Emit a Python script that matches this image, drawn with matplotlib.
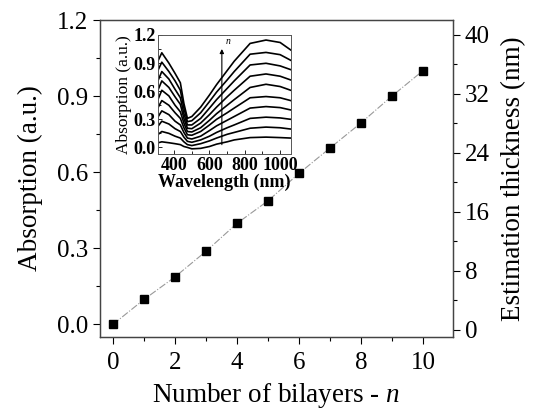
import numpy as np
import matplotlib
matplotlib.use('Agg')
import matplotlib.pyplot as plt
from matplotlib.ticker import MultipleLocator

plt.rcParams['font.family'] = ['Liberation Serif', 'DejaVu Serif']
plt.rcParams['mathtext.fontset'] = 'custom'
plt.rcParams['mathtext.it'] = 'Liberation Serif:italic'

# main plot: absorption vs number of bilayers
bilayers = [0, 1, 2, 3, 4, 5, 6, 7, 8, 9, 10]
absorption = [0.0, 0.098, 0.187, 0.288, 0.398, 0.487, 0.595, 0.695, 0.794, 0.900, 1.0]

# inset spectra, one row per bilayer count (n = 1 .. 10)
wavelength = [310, 330, 370, 405, 435, 455, 475, 500, 550, 600, 640, 700, 740, 830, 920, 1000, 1060]
spectra = [
    [0.05, 0.06, 0.05, 0.04, 0.03, 0.01, 0.00, -0.015, -0.01, 0.01, 0.035, 0.06, 0.08, 0.105, 0.110, 0.105, 0.10],
    [0.14, 0.17, 0.15, 0.12, 0.10, 0.06, 0.03, 0.02, 0.04, 0.07, 0.10, 0.14, 0.16, 0.205, 0.217, 0.21, 0.196],
    [0.23, 0.28, 0.25, 0.20, 0.17, 0.11, 0.065, 0.055, 0.08, 0.12, 0.16, 0.21, 0.24, 0.31, 0.323, 0.315, 0.30],
    [0.33, 0.39, 0.35, 0.28, 0.24, 0.16, 0.10, 0.09, 0.12, 0.18, 0.23, 0.29, 0.33, 0.42, 0.436, 0.425, 0.40],
    [0.43, 0.50, 0.45, 0.37, 0.31, 0.21, 0.135, 0.13, 0.17, 0.24, 0.30, 0.37, 0.42, 0.53, 0.543, 0.53, 0.50],
    [0.52, 0.61, 0.55, 0.45, 0.38, 0.26, 0.17, 0.165, 0.21, 0.29, 0.36, 0.45, 0.51, 0.64, 0.674, 0.65, 0.61],
    [0.62, 0.71, 0.64, 0.54, 0.46, 0.31, 0.205, 0.20, 0.26, 0.35, 0.43, 0.54, 0.61, 0.76, 0.784, 0.76, 0.72],
    [0.72, 0.81, 0.73, 0.62, 0.53, 0.36, 0.24, 0.24, 0.31, 0.42, 0.51, 0.63, 0.71, 0.88, 0.898, 0.87, 0.83],
    [0.83, 0.91, 0.81, 0.71, 0.61, 0.42, 0.275, 0.285, 0.37, 0.49, 0.59, 0.72, 0.81, 0.995, 1.014, 0.99, 0.93],
    [0.93, 1.01, 0.90, 0.79, 0.69, 0.47, 0.31, 0.33, 0.43, 0.56, 0.67, 0.82, 0.92, 1.11, 1.146, 1.12, 1.04],
]

fig = plt.figure(figsize=(5.36, 4.18), dpi=100)
ax = fig.add_axes([0.1866, 0.1938, 0.6584, 0.7582])

ax.plot(bilayers, absorption, color='#999999', lw=0.8, ls='-.', zorder=1)
ax.plot(bilayers, absorption, 's', color='black', ms=6, zorder=2)

ax.set_xlim(-0.42, 10.97)
ax.set_ylim(-0.05, 1.2)
ax.xaxis.set_major_locator(MultipleLocator(2))
ax.xaxis.set_minor_locator(MultipleLocator(1))
ax.yaxis.set_major_locator(MultipleLocator(0.3))
ax.yaxis.set_minor_locator(MultipleLocator(0.15))
ax.yaxis.set_major_formatter(plt.FuncFormatter(lambda v, p: '%.1f' % v))
ax.tick_params(which='major', direction='out', length=5, width=0.8, labelsize=18, colors='black')
ax.tick_params(which='minor', direction='out', length=3, width=0.8)
ax.tick_params(axis='x', pad=6)
ax.set_xlabel('Number of bilayers - $\\mathit{n}$', fontsize=19.5, labelpad=5)
ax.set_ylabel('Absorption (a.u.)', fontsize=19.5, labelpad=10)
for s in ax.spines.values():
    s.set_color('#444444')
    s.set_linewidth(0.9)

ax2 = ax.twinx()
ax2.set_ylim(-0.95, 42.0)
ax2.yaxis.set_major_locator(MultipleLocator(8))
ax2.yaxis.set_minor_locator(MultipleLocator(4))
ax2.tick_params(which='major', direction='out', length=5, width=0.8, labelsize=18)
ax2.tick_params(which='minor', direction='out', length=3, width=0.8)
ax2.set_ylabel('Estimation thickness (nm)', fontsize=19.5, labelpad=8)
for s in ax2.spines.values():
    s.set_color('#444444')
    s.set_linewidth(0.9)

# inset
ins = fig.add_axes([0.2953, 0.6316, 0.2471, 0.2847])
for row in spectra:
    ins.plot(wavelength, row, color='black', lw=1.2)
ins.set_xlim(310, 1060)
ins.set_ylim(-0.07, 1.2)
ins.xaxis.set_major_locator(MultipleLocator(200))
ins.xaxis.set_minor_locator(MultipleLocator(100))
ins.yaxis.set_major_locator(MultipleLocator(0.3))
ins.yaxis.set_minor_locator(MultipleLocator(0.15))
ins.yaxis.set_major_formatter(plt.FuncFormatter(lambda v, p: '%.1f' % v))
ins.tick_params(which='major', direction='in', length=3, width=0.6, labelsize=13, pad=2)
ins.tick_params(which='minor', direction='in', length=2, width=0.6)
for lab in ins.get_xticklabels() + ins.get_yticklabels():
    lab.set_fontweight('bold')
ins.set_xlabel('Wavelength (nm)', fontsize=13, fontweight='bold', labelpad=0)
ins.set_ylabel('Absorption (a.u.)', fontsize=12.5, labelpad=1)
for s in ins.spines.values():
    s.set_color('#555555')
    s.set_linewidth(0.7)
ins.annotate('', xy=(670, 1.08), xytext=(670, 0.0),
             arrowprops=dict(arrowstyle='-|>', color='black', lw=0.8, mutation_scale=6))
ins.text(690, 1.1, '$\\mathit{n}$', fontsize=7)

fig.savefig('out.png', dpi=100)
